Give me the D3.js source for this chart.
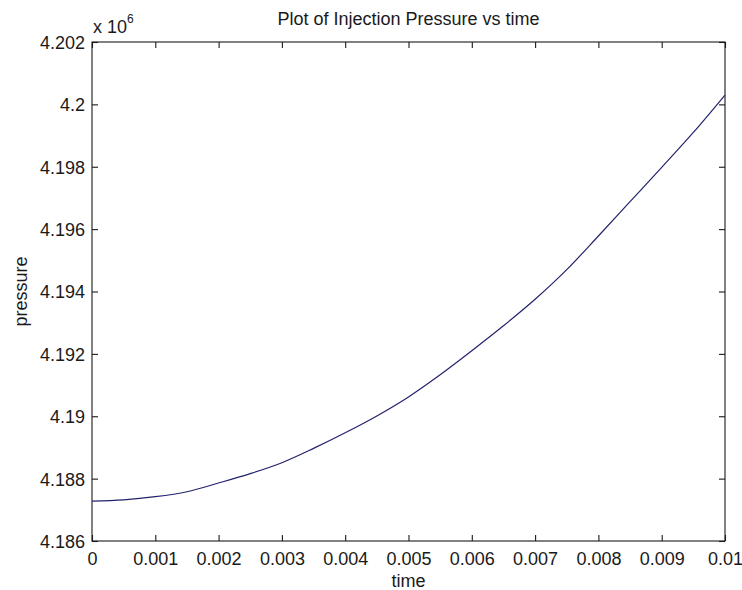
<!DOCTYPE html>
<html>
<head>
<meta charset="utf-8">
<script src="https://cdn.jsdelivr.net/npm/d3@7/dist/d3.min.js"></script>
<style>
  html, body { margin: 0; padding: 0; background: #ffffff; }
  svg { display: block; }
  text { font-family: "Liberation Sans", Arial, sans-serif; fill: #1a1a1a; }
</style>
</head>
<body>
<svg id="chart" width="742" height="590"></svg>
<script>
// time (s)
const times = [0, 0.0005, 0.001, 0.0015, 0.002, 0.0025, 0.003, 0.0035, 0.004, 0.0045,
               0.005, 0.0055, 0.006, 0.0065, 0.007, 0.0075, 0.008, 0.0085, 0.009, 0.0095, 0.01];
// pressure (x 10^6)
const pressure = [4.18728, 4.18732, 4.18742, 4.18758, 4.18786, 4.18816, 4.18851, 4.18897, 4.18947, 4.19001,
                  4.19062, 4.19133, 4.19210, 4.19290, 4.19375, 4.19470, 4.19578, 4.19688, 4.19798, 4.19910, 4.20030];
const xTicks = [0, 0.001, 0.002, 0.003, 0.004, 0.005, 0.006, 0.007, 0.008, 0.009, 0.01];
const xTickLabels = ["0", "0.001", "0.002", "0.003", "0.004", "0.005", "0.006", "0.007", "0.008", "0.009", "0.01"];
const yTicks = [4.186, 4.188, 4.19, 4.192, 4.194, 4.196, 4.198, 4.2, 4.202];
const yTickLabels = ["4.186", "4.188", "4.19", "4.192", "4.194", "4.196", "4.198", "4.2", "4.202"];
const titleText = "Plot of Injection Pressure vs time";
const xLabel = "time";
const yLabel = "pressure";

const svg = d3.select("#chart");
const m = { left: 92, right: 725, top: 42, bottom: 541 };
const x = d3.scaleLinear().domain([0, 0.01]).range([m.left, m.right]);
const y = d3.scaleLinear().domain([4.186, 4.202]).range([m.bottom, m.top]);
const axisColor = "#1a1a1a";
const tickLen = 6;
const fs = 18;

// Box
svg.append("rect")
  .attr("x", m.left).attr("y", m.top)
  .attr("width", m.right - m.left).attr("height", m.bottom - m.top)
  .attr("fill", "#ffffff").attr("stroke", axisColor).attr("stroke-width", 1.1);

// Bottom axis
const xb = svg.append("g").attr("transform", `translate(0,${m.bottom})`)
  .call(d3.axisBottom(x).tickValues(xTicks).tickFormat((d, i) => xTickLabels[i])
        .tickSizeInner(-tickLen).tickSizeOuter(0).tickPadding(11));
// Top axis (ticks only)
const xt = svg.append("g").attr("transform", `translate(0,${m.top})`)
  .call(d3.axisTop(x).tickValues(xTicks).tickFormat("")
        .tickSizeInner(-tickLen).tickSizeOuter(0));
// Left axis
const yl = svg.append("g").attr("transform", `translate(${m.left},0)`)
  .call(d3.axisLeft(y).tickValues(yTicks).tickFormat((d, i) => yTickLabels[i])
        .tickSizeInner(-tickLen).tickSizeOuter(0).tickPadding(7));
// Right axis (ticks only)
const yr = svg.append("g").attr("transform", `translate(${m.right},0)`)
  .call(d3.axisRight(y).tickValues(yTicks).tickFormat("")
        .tickSizeInner(-tickLen).tickSizeOuter(0));

[xb, xt, yl, yr].forEach(g => {
  g.select(".domain").remove();
  g.selectAll(".tick line").attr("stroke", axisColor).attr("stroke-width", 1.1);
  g.selectAll(".tick text").attr("font-size", fs).attr("fill", "#1a1a1a")
    .attr("font-family", "'Liberation Sans', Arial, sans-serif");
});
yl.selectAll(".tick text").attr("dy", "0.36em");

// Curve
const line = d3.line()
  .x((d, i) => x(times[i]))
  .y(d => y(d))
  .curve(d3.curveMonotoneX);
svg.append("path")
  .datum(pressure)
  .attr("d", line)
  .attr("fill", "none")
  .attr("stroke", "#22226e")
  .attr("stroke-width", 1.2);

// Title
svg.append("text")
  .attr("x", (m.left + m.right) / 2).attr("y", 25)
  .attr("text-anchor", "middle").attr("font-size", fs)
  .text(titleText);

// Axis labels
svg.append("text")
  .attr("x", (m.left + m.right) / 2).attr("y", 587)
  .attr("text-anchor", "middle").attr("font-size", fs)
  .text(xLabel);
svg.append("text")
  .attr("transform", `translate(27,${(m.top + m.bottom) / 2}) rotate(-90)`)
  .attr("text-anchor", "middle").attr("font-size", fs)
  .text(yLabel);

// Exponent multiplier
const ex = svg.append("text").attr("x", 93).attr("y", 33).attr("font-size", fs);
ex.append("tspan").text("x 10");
ex.append("tspan").attr("font-size", 12).attr("dy", -10).text("6");
</script>
</body>
</html>
